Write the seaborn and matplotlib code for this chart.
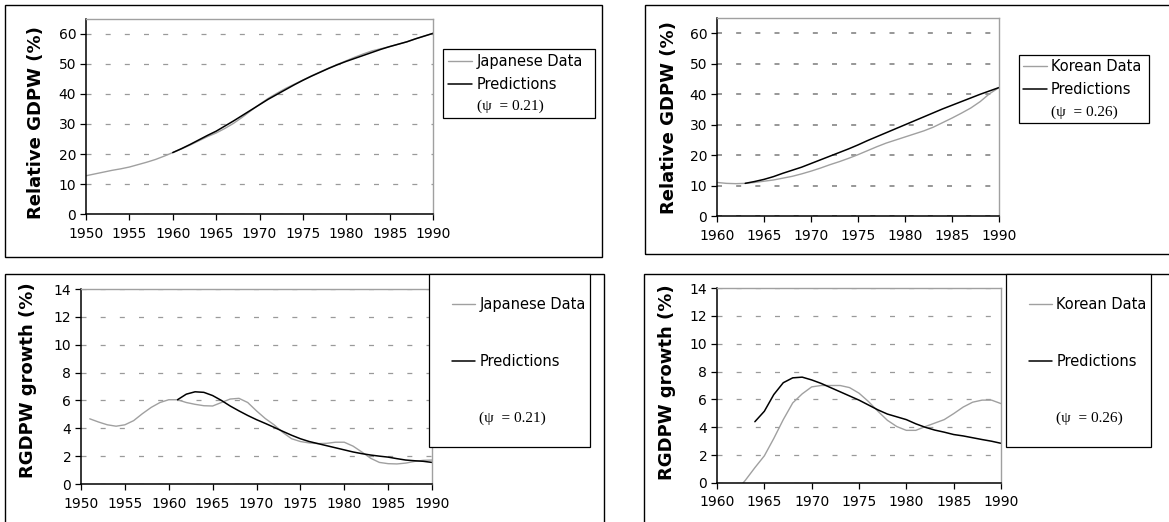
import numpy as np
import pandas as pd
import matplotlib
matplotlib.use("Agg")
import matplotlib.pyplot as plt
import seaborn as sns
from matplotlib.lines import Line2D
from matplotlib.patches import Rectangle

# ---------------- data ----------------
jp_years = list(range(1950, 1991))
jp_level_data = [12.8, 13.4, 14.0, 14.6, 15.1, 15.7, 16.5, 17.3, 18.2, 19.3,
                 20.5, 21.7, 23.0, 24.4, 25.8, 27.0, 28.5, 30.2, 32.2, 34.4,
                 36.5, 38.5, 40.2, 41.8, 43.2, 44.6, 46.0, 47.3, 48.6, 49.8,
                 51.0, 52.2, 53.3, 54.3, 55.0, 55.7, 56.5, 57.3, 58.3, 59.2, 60.1]
jp_pred_years = list(range(1960, 1991))
jp_level_pred = [20.5, 21.8, 23.2, 24.7, 26.2, 27.6, 29.3, 31.0, 32.8, 34.6,
                 36.4, 38.2, 39.8, 41.4, 43.0, 44.5, 45.9, 47.2, 48.5, 49.7,
                 50.8, 51.8, 52.8, 53.8, 54.8, 55.7, 56.5, 57.3, 58.3, 59.2, 60.1]

kr_years = list(range(1960, 1991))
kr_level_data = [11.1, 10.8, 10.7, 10.8, 11.1, 11.5, 11.9, 12.5, 13.1, 13.9,
                 14.8, 15.8, 16.9, 17.9, 19.0, 20.2, 21.5, 22.8, 24.0, 25.0,
                 26.0, 27.0, 28.0, 29.2, 30.7, 32.2, 33.8, 35.5, 37.6, 40.2, 42.2]
kr_pred_years = list(range(1963, 1991))
kr_level_pred = [10.8, 11.4, 12.1, 13.0, 14.1, 15.1, 16.1, 17.3, 18.5, 19.7,
                 20.9, 22.1, 23.4, 24.8, 26.1, 27.4, 28.7, 30.0, 31.3, 32.6,
                 33.9, 35.2, 36.4, 37.6, 38.8, 40.0, 41.1, 42.2]

jp_g_years = list(range(1951, 1991))
jp_growth_data = [4.68, 4.45, 4.25, 4.15, 4.25, 4.55, 5.05, 5.5, 5.85, 6.05,
                  6.05, 5.85, 5.72, 5.62, 5.6, 5.85, 6.1, 6.15, 5.85, 5.25,
                  4.7, 4.25, 3.7, 3.25, 3.05, 2.95, 2.9, 2.92, 3.0, 3.0,
                  2.72, 2.3, 1.85, 1.55, 1.46, 1.44, 1.5, 1.62, 1.7, 1.72]
jp_gp_years = list(range(1961, 1991))
jp_growth_pred = [6.05, 6.45, 6.62, 6.58, 6.35, 6.0, 5.6, 5.25, 4.92, 4.62,
                  4.35, 4.07, 3.78, 3.5, 3.25, 3.05, 2.9, 2.75, 2.6, 2.45,
                  2.3, 2.18, 2.08, 2.0, 1.93, 1.82, 1.72, 1.67, 1.63, 1.55]

kr_g_years = list(range(1962, 1991))
kr_growth_data = [-0.6, 0.2, 1.1, 1.95, 3.2, 4.55, 5.75, 6.4, 6.9, 7.0,
                  7.0, 7.0, 6.85, 6.45, 5.85, 5.15, 4.5, 4.05, 3.78, 3.78,
                  4.05, 4.3, 4.55, 4.98, 5.45, 5.8, 5.95, 5.95, 5.7]
kr_gp_years = list(range(1964, 1991))
kr_growth_pred = [4.4, 5.15, 6.35, 7.2, 7.55, 7.6, 7.4, 7.15, 6.85, 6.55,
                  6.25, 5.95, 5.6, 5.25, 4.95, 4.75, 4.55, 4.25, 4.0, 3.8,
                  3.65, 3.48, 3.38, 3.25, 3.12, 3.0, 2.85]

label_level = "Relative GDPW (%)"
label_growth = "RGDPW growth (%)"
jp_labels = ["Japanese Data", "Predictions", "(\u03c8  = 0.21)"]
kr_labels = ["Korean Data", "Predictions", "(\u03c8  = 0.26)"]

# ---------------- style ----------------
sns.set_style("ticks")
plt.rcParams["font.family"] = ["DejaVu Sans"]
plt.rcParams["text.color"] = "black"
plt.rcParams["axes.labelcolor"] = "black"
plt.rcParams["xtick.color"] = "black"
plt.rcParams["ytick.color"] = "black"

W, H = 1169, 522
fig = plt.figure(figsize=(W / 100, H / 100), dpi=100)

def px_axes(x0, x1, y0, y1):
    return fig.add_axes([x0 / W, 1 - y1 / H, (x1 - x0) / W, (y1 - y0) / H])

def frame(x0, x1, y0, y1):
    fig.add_artist(Rectangle((x0 / W, 1 - y1 / H), (x1 - x0) / W, (y1 - y0) / H,
                             transform=fig.transFigure, fill=False,
                             ec="black", lw=1.0, zorder=0))

DATA_C = "#a0a0a0"
PRED_C = "#000000"

def style_axes(ax, xlim, ylim, ystep, ylabel, lab_xy, grid_c, grid_lw):
    ax.set_xlim(*xlim)
    ax.set_ylim(*ylim)
    ax.set_xticks(list(range(xlim[0], xlim[1] + 1, 5)))
    ax.set_yticks(list(np.arange(0, ylim[1] + 0.01, ystep)))
    ax.yaxis.set_major_formatter(matplotlib.ticker.FormatStrFormatter("%d"))
    for s in ["left", "bottom"]:
        ax.spines[s].set_color("black")
        ax.spines[s].set_linewidth(1.1)
    for s in ["top", "right"]:
        ax.spines[s].set_visible(True)
        ax.spines[s].set_color("#a0a0a0")
        ax.spines[s].set_linewidth(1.0)
    ax.tick_params(axis="both", direction="out", length=4, width=0.9,
                   colors="black", labelsize=10, labelcolor="black")
    ax.tick_params(axis="x", pad=5)
    ax.tick_params(axis="y", pad=3)
    # dash pattern in points: ~5 px on, ~14 px off
    on_pt, off_pt = 3.6, 10.2
    ax.yaxis.grid(True, color=grid_c, linewidth=grid_lw,
                  linestyle=(0, (on_pt / grid_lw, off_pt / grid_lw)))
    ax.xaxis.grid(False)
    ax.set_axisbelow(True)
    ax.set_xlabel("")
    ax.set_ylabel(ylabel, fontsize=13, fontweight="bold", color="black")
    ax.yaxis.set_label_coords(*lab_xy)

def add_legend(ax, labels, box, bp, ls, hl, htp):
    x0, x1, y0, y1 = box
    handles = [Line2D([], [], color=DATA_C, lw=1.0),
               Line2D([], [], color=PRED_C, lw=1.1),
               Line2D([], [], color="none")]
    leg = ax.legend(handles, labels, loc="upper left",
                    bbox_to_anchor=(x0 / W, 1 - y0 / H, (x1 - x0) / W, 0),
                    bbox_transform=fig.transFigure, mode="expand",
                    borderaxespad=0, borderpad=bp, labelspacing=ls,
                    handlelength=hl, handletextpad=htp, frameon=True,
                    fancybox=False, edgecolor="black", framealpha=1,
                    prop={"size": 10.5, "family": "DejaVu Sans"})
    leg.get_frame().set_linewidth(0.9)
    for t in leg.get_texts():
        t.set_color("black")
    t = leg.get_texts()[2]
    t.set_fontfamily("Liberation Serif")
    t.set_fontsize(11)
    return leg

def draw(ax, x1, y1, x2, y2):
    sns.lineplot(x=x1, y=y1, ax=ax, color=DATA_C, linewidth=1.0, legend=False)
    sns.lineplot(x=x2, y=y2, ax=ax, color=PRED_C, linewidth=1.1, legend=False)

# frames
frame(5, 602, 5, 257)
frame(645, 1180, 5, 254)
frame(5, 604, 274, 530)
frame(644, 1180, 274, 530)

# top-left
ax1 = px_axes(86, 433, 18.6, 214.3)
draw(ax1, jp_years, jp_level_data, jp_pred_years, jp_level_pred)
style_axes(ax1, (1950, 1990), (0, 65), 10, label_level, (-0.118, 0.47), "#9a9a9a", 0.9)
add_legend(ax1, jp_labels, (443, 595, 49, 120), 0.32, 0.56, 1.65, 0.35)

# top-right
ax2 = px_axes(717, 999, 18, 216.3)
draw(ax2, kr_years, kr_level_data, kr_pred_years, kr_level_pred)
style_axes(ax2, (1960, 1990), (0, 65), 10, label_level, (-0.138, 0.5), "#7a7a7a", 1.1)
add_legend(ax2, kr_labels, (1019, 1149, 55, 124), 0.3, 0.55, 1.6, 0.3)

# bottom-left
ax3 = px_axes(81, 432, 289, 484)
draw(ax3, jp_g_years, jp_growth_data, jp_gp_years, jp_growth_pred)
style_axes(ax3, (1950, 1990), (0, 14), 2, label_growth, (-0.124, 0.53), "#9a9a9a", 0.9)
add_legend(ax3, jp_labels, (429, 590, 274, 449), 1.55, 2.9, 1.6, 0.3)

# bottom-right
ax4 = px_axes(717, 1001, 288, 483)
draw(ax4, kr_g_years, kr_growth_data, kr_gp_years, kr_growth_pred)
style_axes(ax4, (1960, 1990), (0, 14), 2, label_growth, (-0.143, 0.515), "#9a9a9a", 0.9)
add_legend(ax4, kr_labels, (1006, 1151, 274, 449), 1.55, 2.9, 1.6, 0.3)

fig.savefig("out.png", dpi=100, facecolor="white")
